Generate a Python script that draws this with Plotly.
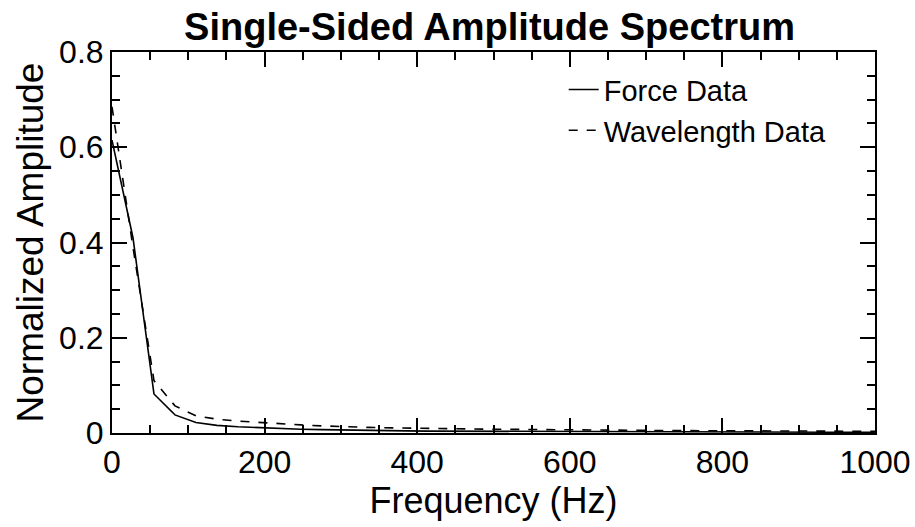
import plotly.graph_objects as go

freq = [0, 27.5, 55, 82.5, 110, 137.5, 165, 192.5, 220, 247.5, 275, 302.5, 330, 357.5,
        385, 412.5, 440, 467.5, 495, 522.5, 550, 577.5, 605, 632.5, 660, 687.5, 715,
        742.5, 770, 797.5, 825, 852.5, 880, 907.5, 935, 962.5, 990, 1000]

force = [0.615, 0.41, 0.082, 0.038, 0.022, 0.016, 0.013, 0.011, 0.009, 0.008, 0.007,
         0.006, 0.0055, 0.005, 0.0045, 0.004, 0.0038, 0.0035, 0.0033, 0.003, 0.0029,
         0.0028, 0.0026, 0.0025, 0.0024, 0.0023, 0.0022, 0.0021, 0.002, 0.002, 0.0019,
         0.0018, 0.0018, 0.0017, 0.0017, 0.0016, 0.0016, 0.0016]

wavelength = [0.685, 0.39, 0.11, 0.057, 0.036, 0.029, 0.025, 0.022, 0.019, 0.017, 0.015,
              0.013, 0.012, 0.011, 0.010, 0.0095, 0.009, 0.0085, 0.008, 0.0075, 0.007,
              0.0068, 0.0065, 0.006, 0.0058, 0.0055, 0.0052, 0.005, 0.0048, 0.0046,
              0.0044, 0.0042, 0.004, 0.0039, 0.0038, 0.0037, 0.0036, 0.0036]

x_ticks = [0, 200, 400, 600, 800, 1000]
x_labels = ["0", "200", "400", "600", "800", "1000"]
y_ticks = [0, 0.2, 0.4, 0.6, 0.8]
y_labels = ["0", "0.2", "0.4", "0.6", "0.8"]

FONT = "Liberation Sans, Arial, sans-serif"

fig = go.Figure()
fig.add_trace(go.Scatter(x=freq, y=force, mode="lines", name="Force Data",
                         line=dict(color="black", width=1.6)))
fig.add_trace(go.Scatter(x=freq, y=wavelength, mode="lines", name="Wavelength Data",
                         line=dict(color="black", width=1.6, dash="dash")))

axis_common = dict(
    showline=True, linecolor="black", linewidth=2, mirror="allticks",
    ticks="inside", ticklen=15, tickwidth=2, tickcolor="black",
    showgrid=False, zeroline=False, automargin=False,
    ticklabeloverflow="allow",
    tickfont=dict(family=FONT, size=32, color="black"),
)

fig.update_xaxes(range=[0, 1000], tickvals=x_ticks, ticktext=x_labels,
                 title=dict(text="Frequency (Hz)", font=dict(family=FONT, size=36, color="black"), standoff=0),
                 minor=dict(dtick=50, ticklen=8, ticks="inside", tickwidth=2, tickcolor="black"),
                 **axis_common)
fig.update_yaxes(range=[0, 0.8], tickvals=y_ticks, ticktext=y_labels,
                 title=dict(text="Normalized Amplitude", font=dict(family=FONT, size=37, color="black"), standoff=4),
                 minor=dict(dtick=0.05, ticklen=8, ticks="inside", tickwidth=2, tickcolor="black"),
                 **axis_common)

fig.update_layout(
    width=915, height=527,
    margin=dict(l=112, r=40, t=52, b=94),
    paper_bgcolor="white", plot_bgcolor="white",
    title=dict(text="<b>Single-Sided Amplitude Spectrum</b>", x=0.535, xanchor="center",
               y=0.925, yanchor="bottom",
               font=dict(family=FONT, size=38, color="black")),
    legend=dict(x=0.592, y=0.968, xanchor="left", yanchor="top",
                bgcolor="rgba(0,0,0,0)", borderwidth=0,
                font=dict(family=FONT, size=29, color="black"),
                tracegroupgap=0, itemwidth=30),
    showlegend=True,
)

fig.write_html("out.html")
